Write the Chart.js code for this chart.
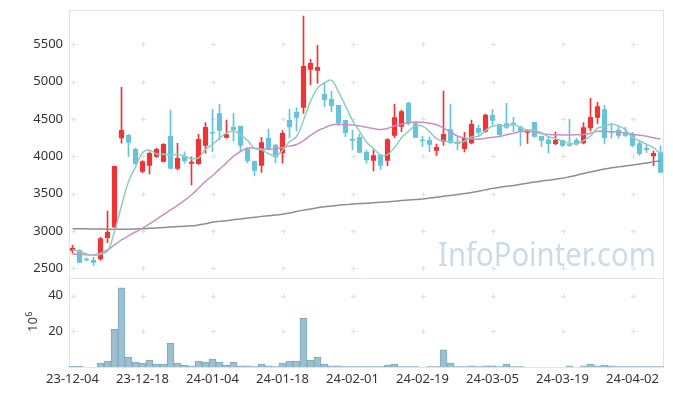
<!DOCTYPE html>
<html>
<head>
<meta charset="utf-8">
<script src="https://cdn.jsdelivr.net/npm/chart.js@4.4.1/dist/chart.umd.min.js"></script>
<style>
  html, body { margin: 0; padding: 0; background: #fff; }
</style>
</head>
<body>
<canvas id="chart" width="673" height="396"></canvas>
<script>
// trading days
const dates = [
  '23-12-04', '23-12-05', '23-12-06', '23-12-07', '23-12-08',
  '23-12-11', '23-12-12', '23-12-13', '23-12-14', '23-12-15',
  '23-12-18', '23-12-19', '23-12-20', '23-12-21', '23-12-22',
  '23-12-26', '23-12-27', '23-12-28', '24-01-02', '24-01-03',
  '24-01-04', '24-01-05', '24-01-08', '24-01-09', '24-01-10',
  '24-01-11', '24-01-12', '24-01-15', '24-01-16', '24-01-17',
  '24-01-18', '24-01-19', '24-01-22', '24-01-23', '24-01-24',
  '24-01-25', '24-01-26', '24-01-29', '24-01-30', '24-01-31',
  '24-02-01', '24-02-02', '24-02-05', '24-02-06', '24-02-07',
  '24-02-08', '24-02-13', '24-02-14', '24-02-15', '24-02-16',
  '24-02-19', '24-02-20', '24-02-21', '24-02-22', '24-02-23',
  '24-02-26', '24-02-27', '24-02-28', '24-02-29', '24-03-04',
  '24-03-05', '24-03-06', '24-03-07', '24-03-08', '24-03-11',
  '24-03-12', '24-03-13', '24-03-14', '24-03-15', '24-03-18',
  '24-03-19', '24-03-20', '24-03-21', '24-03-22', '24-03-25',
  '24-03-26', '24-03-27', '24-03-28', '24-03-29', '24-04-01',
  '24-04-02', '24-04-03', '24-04-04', '24-04-05', '24-04-08'
];

const opens = [
  2736, 2745, 2629, 2611, 2620, 2906, 3049, 4241, 4285, 4097,
  3793, 3874, 3994, 3927, 4271, 3834, 4004, 3901, 3897, 4142,
  4320, 4575, 4249, 4392, 4405, 4097, 3937, 3874, 4245, 4151,
  4040, 4486, 4593, 4650, 5159, 5146, 4834, 4767, 4687, 4486,
  4236, 4258, 4057, 3941, 4017, 3941, 4275, 4396, 4718, 4441,
  4215, 4218, 4075, 4196, 4361, 4187, 4097, 4173, 4379, 4329,
  4553, 4432, 4441, 4450, 4396, 4316, 4459, 4271, 4222, 4164,
  4218, 4151, 4218, 4173, 4374, 4517, 4629, 4338, 4352, 4316,
  4294, 4173, 4110, 4000, 4053
];
const highs = [
  2808, 2750, 2640, 2647, 2915, 3267, 3870, 4924, 4294, 4110,
  3941, 4061, 4110, 4170, 4619, 4174, 4061, 3994, 4294, 4450,
  4629, 4696, 4486, 4575, 4405, 4097, 3937, 4254, 4365, 4160,
  4343, 4629, 4650, 5878, 5298, 5487, 4985, 4870, 4687, 4486,
  4352, 4300, 4084, 4084, 4030, 4236, 4696, 4620, 4725, 4460,
  4271, 4262, 4164, 4874, 4700, 4262, 4321, 4486, 4419, 4565,
  4629, 4432, 4709, 4522, 4405, 4343, 4459, 4271, 4262, 4325,
  4218, 4495, 4240, 4450, 4776, 4723, 4687, 4441, 4405, 4388,
  4320, 4196, 4164, 4071, 4137
];
const lows = [
  2701, 2570, 2600, 2535, 2610, 2843, 3040, 4175, 3994, 3890,
  3780, 3763, 3985, 3920, 3834, 3816, 3906, 3615, 3890, 4040,
  4061, 4218, 4241, 4205, 4075, 3910, 3736, 3785, 4084, 3914,
  3906, 4249, 4338, 4575, 4954, 4977, 4664, 4597, 4405, 4263,
  4084, 4048, 3906, 3803, 3825, 3874, 4249, 4330, 4420, 4249,
  4128, 4061, 4012, 4146, 4164, 4084, 4057, 4165, 4280, 4320,
  4419, 4280, 4374, 4329, 4137, 4173, 4255, 4128, 4040, 4151,
  4130, 4133, 4150, 4165, 4338, 4441, 4164, 4241, 4241, 4262,
  4130, 4012, 4053, 3874, 3780
];
const closes = [
  2772, 2575, 2607, 2575, 2902, 2986, 3870, 4352, 4182, 3897,
  3933, 4044, 4097, 4164, 3834, 3977, 3933, 3927, 4231, 4393,
  4305, 4342, 4294, 4352, 4142, 3937, 3807, 4187, 4102, 3986,
  4312, 4388, 4517, 5209, 5249, 5195, 4754, 4673, 4441, 4312,
  4209, 4048, 3950, 4012, 3874, 4227, 4521, 4602, 4441, 4249,
  4205, 4155, 4124, 4298, 4178, 4164, 4245, 4432, 4316, 4557,
  4477, 4285, 4383, 4428, 4329, 4343, 4262, 4209, 4164, 4218,
  4142, 4140, 4160, 4388, 4526, 4669, 4245, 4316, 4276, 4276,
  4142, 4030, 4084, 4044, 3780
];

// moving averages
const ma5 = [
  2745, 2730, 2690, 2672, 2686, 2729, 2988, 3337, 3658, 3857,
  4047, 4082, 4031, 4027, 4014, 4023, 4001, 3967, 3980, 4092,
  4158, 4240, 4313, 4337, 4287, 4213, 4106, 4085, 4035, 4004,
  4079, 4195, 4261, 4482, 4735, 4912, 4985, 5016, 4862, 4675,
  4478, 4337, 4192, 4106, 4019, 4022, 4117, 4247, 4333, 4408,
  4404, 4330, 4235, 4206, 4192, 4184, 4202, 4263, 4267, 4343,
  4405, 4413, 4404, 4426, 4380, 4354, 4349, 4314, 4261, 4239,
  4199, 4175, 4165, 4210, 4271, 4377, 4398, 4429, 4406, 4356,
  4251, 4208, 4162, 4115, 4030
];
const ma20 = [
  2687, 2687, 2680, 2678, 2701, 2745, 2812, 2879, 2933, 2986,
  3036, 3093, 3156, 3218, 3281, 3343, 3410, 3481, 3571, 3663,
  3739, 3828, 3912, 4001, 4063, 4110, 4107, 4099, 4095, 4099,
  4118, 4136, 4157, 4209, 4280, 4340, 4381, 4419, 4429, 4425,
  4420, 4406, 4389, 4372, 4358, 4373, 4408, 4429, 4446, 4459,
  4454, 4442, 4423, 4377, 4323, 4272, 4246, 4234, 4228, 4240,
  4254, 4266, 4287, 4308, 4331, 4337, 4324, 4304, 4290, 4289,
  4285, 4285, 4287, 4291, 4308, 4334, 4334, 4328, 4326, 4312,
  4295, 4282, 4267, 4248, 4230
];
const ma120 = [
  3030, 3030, 3028, 3027, 3025, 3024, 3022, 3022, 3024, 3027,
  3030, 3035, 3040, 3046, 3053, 3058, 3063, 3068, 3080, 3095,
  3116, 3128, 3138, 3150, 3160, 3172, 3183, 3195, 3203, 3212,
  3223, 3240, 3260, 3278, 3295, 3310, 3325, 3335, 3345, 3352,
  3360, 3366, 3372, 3378, 3384, 3390, 3398, 3406, 3413, 3420,
  3428, 3440, 3452, 3464, 3476, 3488, 3500, 3515, 3532, 3550,
  3570, 3584, 3597, 3610, 3625, 3640, 3655, 3668, 3680, 3693,
  3705, 3725, 3745, 3768, 3790, 3810, 3828, 3845, 3858, 3870,
  3883, 3897, 3910, 3925, 3937
];

// volume in millions
const volume = [
  0.4, 0.4, 0, 0, 2.2, 3.3, 21.1, 44.4, 5.6, 2.8,
  2.2, 3.9, 1.7, 1.7, 13.3, 2.2, 1.1, 0.6, 3.3, 2.8,
  4.4, 2.8, 1.1, 2.8, 0.6, 0.6, 0.3, 1.7, 0.6, 0.2,
  2.2, 3.3, 3.3, 27.2, 3.9, 5.6, 1.7, 0.6, 0.6, 0.3,
  0.3, 0.3, 0.3, 0.3, 0.3, 1.1, 1.7, 0.3, 0.3, 0.3,
  0, 0.3, 0.3, 9.6, 2.2, 0.3, 0.3, 0.6, 0.3, 0.6,
  0.6, 0.3, 1.7, 0.3, 0.3, 0, 0, 0, 0, 0,
  0, 0.6, 0, 0.6, 1.7, 0.6, 1.1, 0.6, 0.3, 0.3,
  0.3, 0.3, 0.3, 0.3, 0.3
];

const priceTicks = [2500, 3000, 3500, 4000, 4500, 5000, 5500];
const volumeTicks = [20, 40];

const UP = '#ee3535';
const DOWN = '#68c2d9';
const candleColors = closes.map((c, i) => c >= opens[i] ? UP : DOWN);
const bodies = opens.map((o, i) => [o, closes[i]]);
const wicks = lows.map((l, i) => [l, highs[i]]);

const decor = {
  id: 'decor',
  beforeDatasetsDraw(chart) {
    const { ctx, chartArea: a, scales: { x, y, yv } } = chart;
    ctx.save();

    // watermark
    ctx.font = '32px "Noto Sans"';
    ctx.fillStyle = '#cbdce7';
    ctx.textAlign = 'right';
    ctx.textBaseline = 'alphabetic';
    ctx.fillText('InfoPointer.com', 656, 266, 218);

    // frame
    ctx.strokeStyle = '#e3e3e3';
    ctx.lineWidth = 1;
    const l = Math.round(a.left) + 0.5, r = Math.round(a.right) - 0.5;
    const t = Math.round(a.top) + 0.5, b = Math.round(a.bottom) + 0.5;
    const mid = Math.round(y.bottom) + 0.5;
    ctx.beginPath();
    ctx.moveTo(l, t); ctx.lineTo(r, t); ctx.lineTo(r, b); ctx.lineTo(l, b); ctx.closePath();
    ctx.moveTo(l, mid); ctx.lineTo(r, mid);
    ctx.stroke();

    // grid crosses
    ctx.strokeStyle = '#e0e0e0';
    const xs = dates.map((d, i) => i).filter(i => i % 10 === 0).map(i => Math.round(x.getPixelForValue(i)) + 0.5);
    const ys = priceTicks.map(v => y.getPixelForValue(v))
      .concat(volumeTicks.map(v => yv.getPixelForValue(v)))
      .map(v => Math.round(v) + 0.5);
    ctx.beginPath();
    xs.forEach(px => ys.forEach(py => {
      ctx.moveTo(px - 2.5, py); ctx.lineTo(px + 2.5, py);
      ctx.moveTo(px, py - 2.5); ctx.lineTo(px, py + 2.5);
    }));
    ctx.stroke();
    ctx.restore();
  },
  afterDraw(chart) {
    const { ctx } = chart;
    ctx.save();
    ctx.translate(37, 321);
    ctx.rotate(-Math.PI / 2);
    ctx.fillStyle = '#333';
    ctx.textBaseline = 'alphabetic';
    ctx.textAlign = 'left';
    ctx.font = '13px "Noto Sans"';
    const w = ctx.measureText('10').width;
    ctx.fillText('10', -11, 0);
    ctx.font = '9px "Noto Sans"';
    ctx.fillText('6', -11 + w + 0.5, -5);
    ctx.restore();
  }
};

// fixed axis box, no extra label padding
function fitY(s) {
  s.width = 69;
  s.paddingTop = 0;
  s.paddingBottom = 0;
}

Chart.defaults.font.family = '"Noto Sans", sans-serif';
Chart.defaults.font.size = 13;
Chart.defaults.color = '#333';

const ctx = document.getElementById('chart').getContext('2d');
new Chart(ctx, {
  type: 'bar',
  data: {
    labels: dates,
    datasets: [
      { type: 'line', data: ma5, yAxisID: 'y', borderColor: '#8dcec0', borderWidth: 1.5, pointRadius: 0, tension: 0.4, order: 0 },
      { type: 'line', data: ma20, yAxisID: 'y', borderColor: '#cc8ec5', borderWidth: 1.5, pointRadius: 0, tension: 0.4, order: 0 },
      { type: 'line', data: ma120, yAxisID: 'y', borderColor: '#8e8e8e', borderWidth: 1.5, pointRadius: 0, tension: 0.4, order: 0 },
      { data: bodies, yAxisID: 'y', backgroundColor: candleColors, grouped: false, barPercentage: 0.74, categoryPercentage: 1, minBarLength: 1.5, order: 1 },
      { data: wicks, yAxisID: 'y', backgroundColor: candleColors, grouped: false, barThickness: 1, order: 2 },
      { data: volume, yAxisID: 'yv', backgroundColor: '#9bc0d0', borderColor: '#7fa8ba', borderWidth: 1, grouped: false, barPercentage: 1, categoryPercentage: 1, order: 3 }
    ]
  },
  options: {
    responsive: false,
    animation: false,
    layout: { padding: { left: 0, right: 9, top: 10, bottom: 0 } },
    plugins: { legend: { display: false }, tooltip: { enabled: false } },
    scales: {
      x: {
        offset: true,
        grid: { display: false, drawTicks: false },
        border: { display: false },
        ticks: {
          autoSkip: false, maxRotation: 0, minRotation: 0, padding: 4,
          callback: (v, i) => i % 10 === 0 ? dates[i] : ''
        },
        afterFit: s => { s.height = 29; }
      },
      // defined first so that it lands in the lower slot of the stack
      yv: {
        position: 'left', stack: 'panels', stackWeight: 1,
        min: 0, max: 50,
        grid: { display: false, drawTicks: false },
        border: { display: false },
        ticks: { padding: 6, callback: v => String(v) },
        afterBuildTicks: s => { s.ticks = volumeTicks.map(v => ({ value: v })); },
        afterFit: fitY
      },
      y: {
        position: 'left', stack: 'panels', stackWeight: 3,
        min: 2373, max: 5959,
        grid: { display: false, drawTicks: false },
        border: { display: false },
        ticks: { padding: 6, callback: v => String(v) },
        afterBuildTicks: s => { s.ticks = priceTicks.map(v => ({ value: v })); },
        afterFit: fitY
      }
    }
  },
  plugins: [decor]
});
</script>
</body>
</html>
